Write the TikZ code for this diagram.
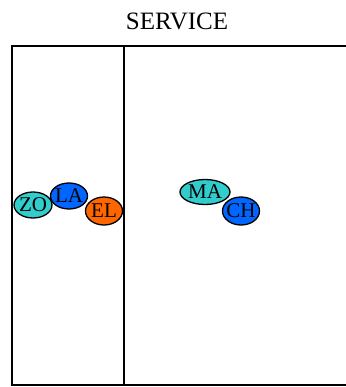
\documentclass[tikz,border=0pt]{standalone}
\usepackage{fontspec}
\setmainfont{Liberation Serif}
\usetikzlibrary{shapes.geometric}
\definecolor{tealc}{HTML}{33CCCC}
\definecolor{bluec}{HTML}{0066FF}
\definecolor{orangec}{HTML}{FF6600}
\tikzset{
  member/.style={ellipse, draw=black, line width=1.3pt, inner sep=0pt,
    minimum height=26pt, label={[font=\fontsize{21}{21}\selectfont, inner sep=0pt]center:#1}},
  frameline/.style={line width=1.3pt, black}
}
\begin{document}
\begin{tikzpicture}[x=1pt,y=-1pt]
\useasboundingbox (0,0) rectangle (345,387);
\node (title) at (177,21) {\fontsize{25}{25}\selectfont SERVICE};
\coordinate (tl) at (12,46);
\coordinate (tr) at (346,46);
\coordinate (bl) at (12,385);
\coordinate (br) at (346,385);
\coordinate (dt) at (124,46);
\coordinate (db) at (124,385);
\draw[frameline] (tr) -- (tl) -- (bl) -- (br);
\draw[frameline] (dt) -- (db);
\node[member=ZO, fill=tealc, minimum width=38pt] (zo) at (33,205) {};
\node[member=LA, fill=bluec, minimum width=37pt] (la) at (69,196) {};
\node[member=EL, fill=orangec, minimum width=37pt, minimum height=28pt] (el) at (104,211) {};
\node[member=MA, fill=tealc, minimum width=50pt, minimum height=25pt] (ma) at (205,192) {};
\node[member=CH, fill=bluec, minimum width=37pt, minimum height=28pt] (ch) at (241,211) {};
\end{tikzpicture}
\end{document}
